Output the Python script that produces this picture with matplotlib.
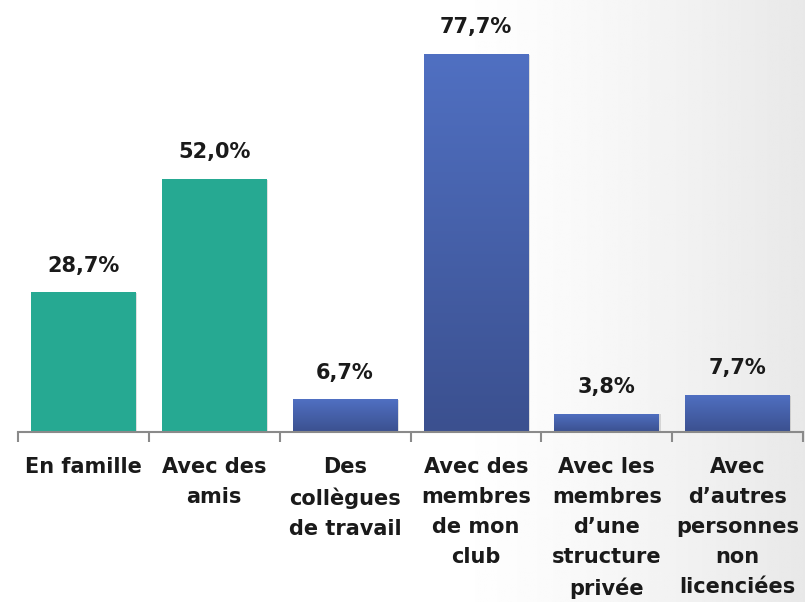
import matplotlib
matplotlib.use('Agg')
import matplotlib.pyplot as plt
import numpy as np

# Données
categories = ['En famille', 'Avec des\namis', 'Des\ncollègues\nde travail',
              'Avec des\nmembres\nde mon\nclub', 'Avec les\nmembres\nd\u2019une\nstructure\nprivée',
              'Avec\nd\u2019autres\npersonnes\nnon\nlicenciées']
valeurs = [28.7, 52.0, 6.7, 77.7, 3.8, 7.7]
etiquettes = ['28,7%', '52,0%', '6,7%', '77,7%', '3,8%', '7,7%']
groupe = ['vert', 'vert', 'bleu', 'bleu', 'bleu', 'bleu']

fig = plt.figure(figsize=(8.05, 6.02), dpi=100)

# fond dégradé (blanc -> gris clair à droite)
fond = fig.add_axes([0, 0, 1, 1], zorder=0)
g = np.linspace(0, 1, 400)
g = np.clip((g - 0.55) / 0.45, 0, 1) ** 1.3
img = 1.0 - 0.09 * g
fond.imshow(np.tile(img, (10, 1)), cmap='gray', vmin=0, vmax=1, aspect='auto',
            extent=[0, 1, 0, 1])
fond.axis('off')

ax = fig.add_axes([18 / 805, 170 / 602, 785 / 805, 432 / 602], zorder=1)
ax.patch.set_alpha(0)
x = np.arange(len(valeurs))
barres = ax.bar(x, valeurs, width=0.8, color='none', edgecolor='none', zorder=2)

vert = np.array([0x26, 0xa9, 0x92]) / 255
bleu_haut = np.array([0x50, 0x70, 0xc2]) / 255
bleu_bas = np.array([0x3b, 0x50, 0x8f]) / 255
t = np.linspace(0, 1, 256)[:, None]
grad_bleu = (bleu_haut * (1 - t) + bleu_bas * t).reshape(256, 1, 3)

for b, grp in zip(barres, groupe):
    x0, y0 = b.get_x(), b.get_y()
    w, h = b.get_width(), b.get_height()
    # ombre légère
    ax.add_patch(plt.Rectangle((x0 + 0.012, y0), w, h - 0.2, color='#000000',
                               alpha=0.12, lw=0, zorder=1.5))
    if grp == 'vert':
        ax.add_patch(plt.Rectangle((x0, y0), w, h, color=vert, lw=0, zorder=2))
    else:
        im = ax.imshow(grad_bleu, extent=[x0, x0 + w, y0, y0 + h], aspect='auto',
                       zorder=2, interpolation='bilinear')
        rect = plt.Rectangle((x0, y0), w, h, transform=ax.transData, fc='none', lw=0)
        ax.add_patch(rect)
        im.set_clip_path(rect)

for xi, v, lab in zip(x, valeurs, etiquettes):
    ax.annotate(lab, (xi, v), xytext=(0, 12), textcoords='offset points',
                ha='center', va='bottom', fontsize=15, fontweight='bold',
                color='#1a1a1a')

ax.set_xlim(-0.5, 5.5)
ax.set_ylim(0, 88.8)
ax.set_yticks([])
for s in ['top', 'right', 'left']:
    ax.spines[s].set_visible(False)
ax.spines['bottom'].set_color('#8a8a8a')
ax.spines['bottom'].set_linewidth(1.5)

ax.set_xticks(np.arange(-0.5, 6, 1))
ax.set_xticklabels([])
ax.tick_params(axis='x', length=7, width=1.5, color='#8a8a8a')
ax.set_xticks(x, minor=True)
ax.set_xticklabels(categories, minor=True, fontsize=15, fontweight='bold',
                   color='#1a1a1a', linespacing=1.62)
ax.tick_params(axis='x', which='minor', length=0, pad=18)

plt.savefig('out.png', dpi=100)
plt.close()
